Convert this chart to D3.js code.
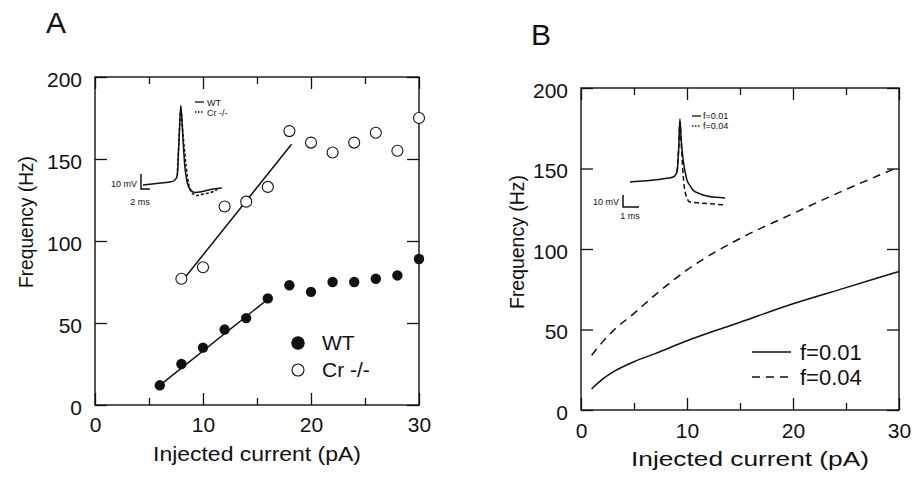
<!DOCTYPE html>
<html lang="en">
<head>
  <meta charset="UTF-8">
  <title>Firing frequency vs injected current</title>
  <script src="https://d3js.org/d3.v7.min.js"></script>
  <style>
    body { margin: 0; background: #fff; }
    svg { display: block; font-family: "Liberation Sans", Arial, sans-serif; fill: #111; }
    .frame { fill: none; stroke: #111; stroke-width: 1.4px; }
    .fit { fill: none; stroke: #111; stroke-width: 1.5px; }
    .model { fill: none; stroke: #111; stroke-width: 1.5px; }
    .trace { fill: none; stroke: #111; stroke-width: 1.5px; }
    .axis-title { font-size: 20px; }
    .panel-label { font-size: 30px; }
    .inset-text { font-size: 9px; }
  </style>
</head>
<body>
  <svg width="914" height="486"></svg>

  <script>
    // panel A: measured firing frequency
    const wtCurrent = [6, 8, 10, 12, 14, 16, 18, 20, 22, 24, 26, 28, 30];
    const wtFreq    = [12, 25, 35, 46, 53, 65, 73, 69, 75, 75, 77, 79, 89];
    const crCurrent = [8, 10, 12, 14, 16, 18, 20, 22, 24, 26, 28, 30];
    const crFreq    = [77, 84, 121, 124, 133, 167, 160, 154, 160, 166, 155, 175];
    const wtFitX = [6, 16],  wtFitY = [12, 64.5];
    const crFitX = [8, 18.2], crFitY = [75, 159];

    // panel B: model curves
    const modelCurrent = [1, 2, 3, 5, 7, 10, 15, 20, 25, 30];
    const freqF001 = [13, 19, 23.5, 30, 35, 43, 54.5, 66, 76, 86];
    const freqF004 = [34, 42, 49, 60, 71.5, 87, 106.5, 122, 137, 151];

    const xMajor = [0, 10, 20, 30];
    const xMinor = [5, 15, 25];
    const yMajor = [0, 50, 100, 150, 200];

    const legendA = ['WT', 'Cr -/-'];
    const legendB = ['f=0.01', 'f=0.04'];

    // inset spikes: time (ms), potential relative to rest (mV)
    const wtSpikeT = [0, 3, 6, 7, 7.6, 8.0, 8.4, 8.8, 9.3, 9.8, 10.5, 11.5, 13, 15, 17.5];
    const wtSpikeV = [0, 1, 2, 3, 6, 30, 53, 35, 12, 2, -3, -5, -4.5, -3, -2];
    const crSpikeT = [7.6, 8.0, 8.4, 9.0, 9.6, 10.2, 10.8, 12, 13.5, 15.5, 16.5];
    const crSpikeV = [6, 30, 50, 30, 12, 0, -5, -7, -6, -4.5, -3];

    const f001SpikeT = [0, 1, 2, 2.7, 2.94, 3.05, 3.12, 3.2, 3.3, 3.45, 3.56, 3.75, 3.94, 4.3, 4.8, 5.4, 5.94];
    const f001SpikeV = [0, 1, 2.5, 4.2, 8.3, 30, 52.5, 35, 20.8, 8, 1.7, -3, -6.7, -9.5, -11.7, -12.8, -13.3];
    const f004SpikeT = [2.94, 3.05, 3.12, 3.2, 3.3, 3.4, 3.5, 3.75, 4.4, 5.2, 5.94];
    const f004SpikeV = [8.3, 30, 50, 33, 10, -5, -11, -16.7, -17.5, -18.3, -19.2];

    const svg = d3.select('svg');
    const zip = (a, b) => a.map((v, i) => [v, b[i]]);

    function makePanel(box) {
      const x = d3.scaleLinear().domain([0, 30]).range([box.left, box.right]);
      const y = d3.scaleLinear().domain([0, 200]).range([box.bottom, box.top]);
      const g = svg.append('g');

      const axes = [
        [d3.axisBottom(x).tickValues(xMajor).tickSize(-12).tickPadding(box.xPad), `translate(0,${box.bottom})`, true],
        [d3.axisBottom(x).tickValues(xMinor).tickSize(-7).tickFormat(''), `translate(0,${box.bottom})`],
        [d3.axisTop(x).tickValues(xMajor).tickSize(-12).tickFormat(''), `translate(0,${box.top})`],
        [d3.axisTop(x).tickValues(xMinor).tickSize(-7).tickFormat(''), `translate(0,${box.top})`],
        [d3.axisLeft(y).tickValues(yMajor).tickSize(-12).tickPadding(13), `translate(${box.left},0)`, true],
        [d3.axisRight(y).tickValues(yMajor).tickSize(-12).tickFormat(''), `translate(${box.right},0)`]
      ];
      axes.forEach(([axis, tr, labels]) => {
        const a = g.append('g').attr('transform', tr).call(axis.tickSizeOuter(0));
        a.select('.domain').remove();
        a.attr('font-family', null).attr('font-size', null);
        a.selectAll('line').attr('stroke', '#111').attr('stroke-width', 1.3);
        if (labels) a.selectAll('text').attr('font-size', 21).attr('fill', '#111');
      });
      g.selectAll('.tick text').filter(function () { return this.getAttribute('x') !== null && +this.getAttribute('x') < 0; })
        .attr('dy', '0.45em');

      g.append('rect').attr('class', 'frame')
        .attr('x', box.left).attr('y', box.top)
        .attr('width', box.right - box.left).attr('height', box.bottom - box.top);

      g.append('text').attr('class', 'axis-title')
        .attr('x', box.xTitle[0]).attr('y', box.xTitle[1])
        .attr('text-anchor', 'middle')
        .attr('textLength', box.xTitleLen).attr('lengthAdjust', 'spacingAndGlyphs')
        .text('Injected current (pA)');

      g.append('text').attr('class', 'axis-title')
        .attr('transform', `translate(${box.yTitle[0]},${box.yTitle[1]}) rotate(-90)`)
        .attr('text-anchor', 'middle')
        .attr('textLength', box.yTitleLen).attr('lengthAdjust', 'spacingAndGlyphs')
        .text('Frequency (Hz)');

      g.append('text').attr('class', 'panel-label')
        .attr('x', box.label[0]).attr('y', box.label[1])
        .attr('font-size', box.labelSize)
        .text(box.name);

      return { g, x, y };
    }

    // ---------- panel A ----------
    const A = makePanel({
      name: 'A', left: 95, right: 419, top: 77, bottom: 405, xPad: 12,
      xTitle: [257, 461], xTitleLen: 208, yTitle: [33, 222], yTitleLen: 132,
      label: [46, 33], labelSize: 32
    });

    const lineA = d3.line().x(d => A.x(d[0])).y(d => A.y(d[1]));
    A.g.append('path').attr('class', 'fit').attr('d', lineA(zip(wtFitX, wtFitY)));
    A.g.append('path').attr('class', 'fit').attr('d', lineA(zip(crFitX, crFitY)));

    A.g.selectAll('.wt').data(zip(wtCurrent, wtFreq)).enter().append('circle')
      .attr('class', 'wt').attr('cx', d => A.x(d[0])).attr('cy', d => A.y(d[1]))
      .attr('r', 5.2).attr('fill', '#111');

    A.g.selectAll('.cr').data(zip(crCurrent, crFreq)).enter().append('circle')
      .attr('class', 'cr').attr('cx', d => A.x(d[0])).attr('cy', d => A.y(d[1]))
      .attr('r', 5.5).attr('fill', '#fff').attr('stroke', '#111').attr('stroke-width', 1.1);

    // legend A
    legendA.forEach((name, i) => {
      const yy = 343 + i * 27;
      A.g.append('circle').attr('cx', 298).attr('cy', yy).attr('r', i === 0 ? 6.2 : 6)
        .attr('fill', i === 0 ? '#111' : '#fff').attr('stroke', '#111').attr('stroke-width', 1.1);
      A.g.append('text').attr('x', 322).attr('y', yy + 7).attr('font-size', 21).text(name);
    });

    // inset A: spike waveforms
    const ixA = d3.scaleLinear().domain([0, 1]).range([143, 147.5]);
    const iyA = d3.scaleLinear().domain([0, 10]).range([185, 170]);
    const spikeA = d3.line().x(d => ixA(d[0])).y(d => iyA(d[1])).curve(d3.curveMonotoneX);
    A.g.append('path').attr('class', 'trace').attr('d', spikeA(zip(wtSpikeT, wtSpikeV)));
    A.g.append('path').attr('class', 'trace').attr('stroke-dasharray', '3,2')
      .attr('d', spikeA(zip(crSpikeT, crSpikeV)));

    const barA = { x: 141, y: 189, w: ixA(2) - ixA(0), h: iyA(0) - iyA(10) };
    A.g.append('path').attr('class', 'trace').attr('stroke-width', 1.2)
      .attr('d', `M${barA.x},${barA.y - barA.h}V${barA.y}H${barA.x + barA.w}`);
    A.g.append('text').attr('class', 'inset-text').attr('x', 137).attr('y', 187).attr('text-anchor', 'end').text('10 mV');
    A.g.append('text').attr('class', 'inset-text').attr('x', 140).attr('y', 205).attr('text-anchor', 'middle').text('2 ms');

    legendA.forEach((name, i) => {
      const yy = 102 + i * 10;
      A.g.append('line').attr('x1', 195).attr('x2', 204).attr('y1', yy).attr('y2', yy)
        .attr('stroke', '#111').attr('stroke-width', 1.3).attr('stroke-dasharray', i ? '1.5,1.5' : null);
      A.g.append('text').attr('class', 'inset-text').attr('x', 207).attr('y', yy + 3.5).text(name);
    });

    // ---------- panel B ----------
    const B = makePanel({
      name: 'B', left: 581, right: 899, top: 88, bottom: 410, xPad: 13,
      xTitle: [750, 466], xTitleLen: 238, yTitle: [524, 242], yTitleLen: 134,
      label: [531, 45], labelSize: 28
    });

    const lineB = d3.line().x(d => B.x(d[0])).y(d => B.y(d[1])).curve(d3.curveMonotoneX);
    B.g.append('path').attr('class', 'model').attr('d', lineB(zip(modelCurrent, freqF001)));
    B.g.append('path').attr('class', 'model').attr('stroke-dasharray', '8,6')
      .attr('d', lineB(zip(modelCurrent, freqF004)));

    legendB.forEach((name, i) => {
      const yy = 352 + i * 25;
      B.g.append('line').attr('x1', 752).attr('x2', 791).attr('y1', yy).attr('y2', yy)
        .attr('stroke', '#111').attr('stroke-width', 1.5).attr('stroke-dasharray', i ? '8,6' : null);
      B.g.append('text').attr('x', 800).attr('y', yy + 8).attr('font-size', 22).text(name);
    });

    // inset B: model spikes
    const ixB = d3.scaleLinear().domain([0, 1]).range([630, 646]);
    const iyB = d3.scaleLinear().domain([0, 10]).range([182, 170]);
    const spikeB = d3.line().x(d => ixB(d[0])).y(d => iyB(d[1])).curve(d3.curveMonotoneX);
    B.g.append('path').attr('class', 'trace').attr('d', spikeB(zip(f001SpikeT, f001SpikeV)));
    B.g.append('path').attr('class', 'trace').attr('stroke-dasharray', '5,3')
      .attr('d', spikeB(zip(f004SpikeT, f004SpikeV)));

    const barB = { x: 623, y: 207, w: ixB(1) - ixB(0), h: iyB(0) - iyB(10) };
    B.g.append('path').attr('class', 'trace').attr('stroke-width', 1.2)
      .attr('d', `M${barB.x},${barB.y - barB.h}V${barB.y}H${barB.x + barB.w}`);
    B.g.append('text').attr('class', 'inset-text').attr('font-size', 8).attr('x', 619).attr('y', 205).attr('text-anchor', 'end').text('10 mV');
    B.g.append('text').attr('class', 'inset-text').attr('font-size', 8).attr('x', 630).attr('y', 219).attr('text-anchor', 'middle').text('1 ms');

    legendB.forEach((name, i) => {
      const yy = 116 + i * 10;
      B.g.append('line').attr('x1', 692).attr('x2', 701).attr('y1', yy).attr('y2', yy)
        .attr('stroke', '#111').attr('stroke-width', 1.3).attr('stroke-dasharray', i ? '1.5,1.5' : null);
      B.g.append('text').attr('class', 'inset-text').attr('font-size', 8).attr('x', 703).attr('y', yy + 3).text(name);
    });
  </script>
</body>
</html>
